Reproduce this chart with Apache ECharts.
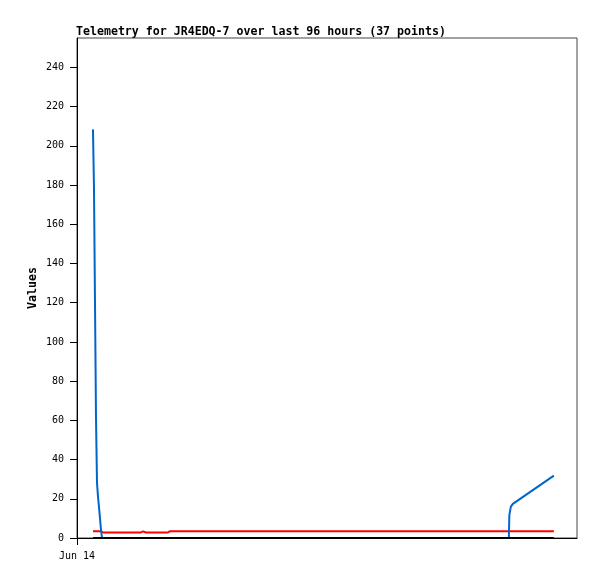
<!DOCTYPE html>
<html><head><meta charset="utf-8">
<script src="https://cdn.jsdelivr.net/npm/echarts@6/dist/echarts.min.js"></script>
<style>html,body{margin:0;padding:0;background:#fff}#c{width:597px;height:579px}</style>
</head><body><div id="c"></div>
<script>
// hours since Jun 14 00:00
const blueHours = [3.33, 3.54, 3.75, 3.96, 4.17, 4.38, 4.58, 4.79, 5.0, 5.21, 90.0, 90.1, 90.42, 90.83, 99.38];
const blueValues = [208.4, 178.8, 120.1, 61.3, 28.1, 21.0, 15.8, 10.2, 4.1, 0, 0, 11.7, 16.0, 17.4, 31.8];
const redHours = [3.33, 5.0, 5.42, 7.5, 7.71, 8.13, 8.54, 8.96, 13.33, 13.75, 14.38, 18.96, 19.38, 99.38];
const redValues = [3.5, 3.5, 2.8, 2.8, 3.4, 2.8, 3.4, 2.8, 2.8, 3.4, 2.8, 2.8, 3.5, 3.5];
const blackHours = [3.33, 99.38];
const blackValues = [0, 0];
const yTicks = [0, 20, 40, 60, 80, 100, 120, 140, 160, 180, 200, 220, 240];
const xTickHours = [0];
const xTickLabels = ['Jun 14'];
const titleText = 'Telemetry for JR4EDQ-7 over last 96 hours (37 points)';

const zip = (a, b) => a.map((v, i) => [v, b[i]]);
const mono = 'DejaVu Sans Mono';
const chart = echarts.init(document.getElementById('c'));
chart.setOption({
  animation: false,
  backgroundColor: '#fff',
  title: { text: titleText, left: 76, top: 26, padding: 0,
    textStyle: { fontFamily: mono, fontWeight: 'bold', fontSize: 11.6, color: '#000' } },
  grid: { left: 77, top: 38, right: 20, bottom: 41, show: true, borderColor: '#444', borderWidth: 1, outerBoundsMode: 'none', containLabel: false },
  xAxis: { type: 'value', min: 0, max: 104.2,
    axisLine: { show: true, onZero: false, lineStyle: { color: '#000', width: 1 } },
    axisTick: { show: true, length: 7, customValues: xTickHours, lineStyle: { color: '#000' } },
    axisLabel: { customValues: xTickHours, margin: 13, fontFamily: mono, fontSize: 10, color: '#000',
      formatter: v => { const i = xTickHours.indexOf(v); return i >= 0 ? xTickLabels[i] : ''; } },
    splitLine: { show: false } },
  yAxis: { type: 'value', min: 0, max: 255,
    name: 'Values', nameLocation: 'middle', nameGap: 38, nameRotate: 90, nameMoveOverlap: false,
    nameTextStyle: { fontFamily: mono, fontWeight: 'bold', fontSize: 11.6, color: '#000' },
    axisLine: { show: true, lineStyle: { color: '#000', width: 1 } },
    axisTick: { show: true, length: 7, customValues: yTicks, lineStyle: { color: '#000' } },
    axisLabel: { customValues: yTicks, margin: 13, fontFamily: mono, fontSize: 10, color: '#000' },
    splitLine: { show: false } },
  series: [
    { type: 'line', data: zip(redHours, redValues), showSymbol: false, lineStyle: { color: '#ff0000', width: 2 }, z: 2 },
    { type: 'line', data: zip(blueHours, blueValues), showSymbol: false, lineStyle: { color: '#0066cc', width: 2 }, z: 3 },
    { type: 'line', data: zip(blackHours, blackValues), showSymbol: false, lineStyle: { color: '#000', width: 2 }, z: 4 }
  ]
});
</script></body></html>
